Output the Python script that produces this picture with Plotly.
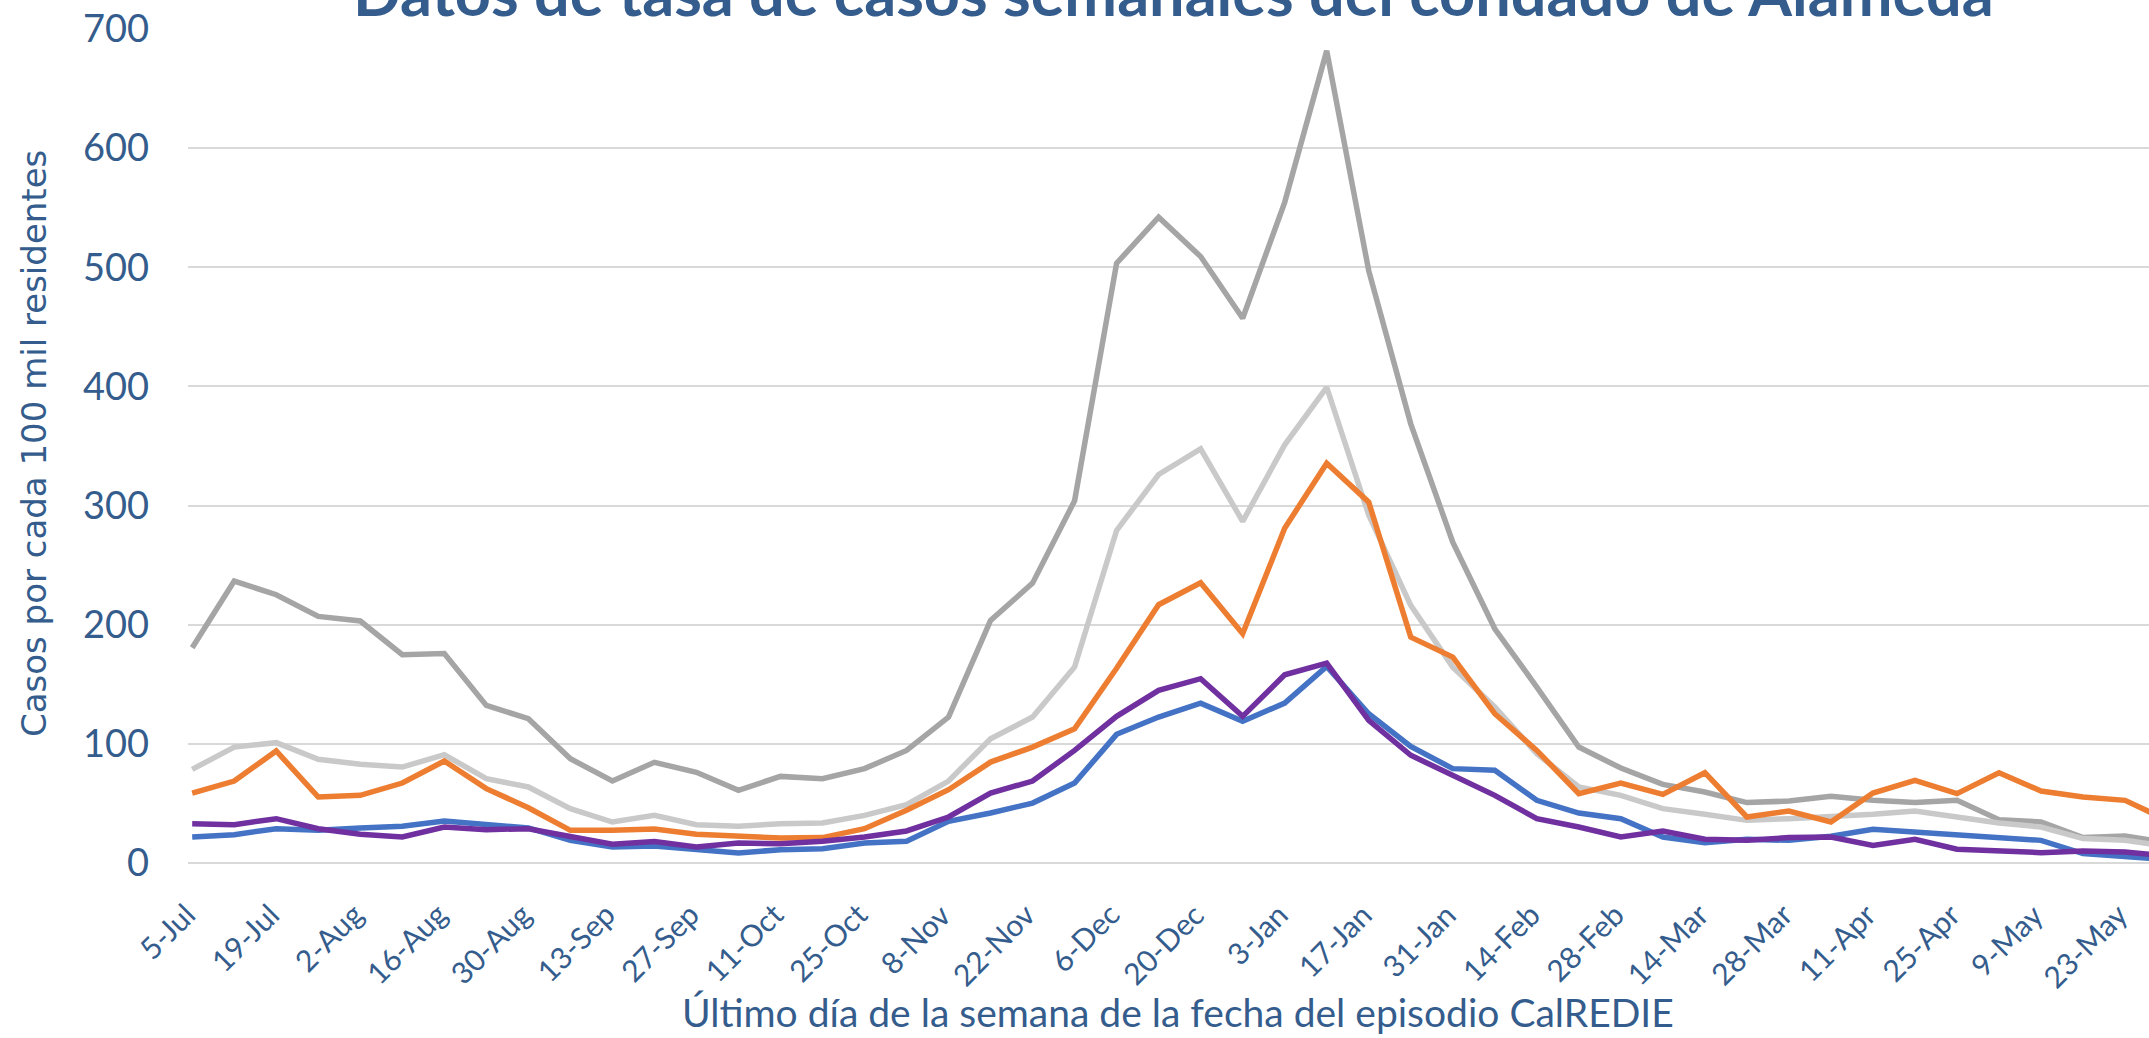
import plotly.graph_objects as go

weeks = ["5-Jul", "12-Jul", "19-Jul", "26-Jul", "2-Aug", "9-Aug", "16-Aug", "23-Aug", "30-Aug",
         "6-Sep", "13-Sep", "20-Sep", "27-Sep", "4-Oct", "11-Oct", "18-Oct", "25-Oct",
         "1-Nov", "8-Nov", "15-Nov", "22-Nov", "29-Nov", "6-Dec", "13-Dec", "20-Dec", "27-Dec",
         "3-Jan", "10-Jan", "17-Jan", "24-Jan", "31-Jan", "7-Feb", "14-Feb", "21-Feb", "28-Feb",
         "7-Mar", "14-Mar", "21-Mar", "28-Mar", "4-Apr", "11-Apr", "18-Apr", "25-Apr",
         "2-May", "9-May", "16-May", "23-May", "30-May"]

dark_gray = [180.7, 236.6, 225.2, 207.0, 203.1, 174.8, 175.9, 132.3, 121.1, 87.5, 68.8, 84.5,
             76.1, 61.0, 72.7, 70.8, 79.2, 94.5, 122.5, 203.6, 234.9, 304.0, 503.4, 542.0,
             509.0, 457.2, 554.5, 681.8, 497.2, 368.6, 269.3, 196.6, 147.7, 97.3, 79.7, 66.0,
             59.6, 50.7, 52.0, 56.0, 52.6, 50.7, 52.6, 36.4, 34.4, 21.3, 22.7, 17.0]
light_gray = [78.6, 97.3, 101.0, 87.0, 82.8, 80.5, 90.9, 70.8, 63.8, 45.6, 34.4, 40.0,
              32.2, 30.8, 33.0, 33.6, 40.0, 49.0, 68.8, 104.3, 122.5, 164.5, 279.1, 326.1,
              347.6, 286.7, 351.0, 399.3, 292.0, 216.2, 164.4, 130.9, 91.8, 63.8, 56.8, 45.6,
              40.9, 35.8, 37.2, 38.6, 40.9, 43.6, 38.6, 33.6, 30.2, 20.5, 19.0, 14.0]
orange = [58.7, 68.8, 94.0, 55.4, 56.8, 67.1, 85.6, 62.4, 46.4, 27.4, 27.4, 28.5,
          24.1, 22.9, 21.0, 21.3, 28.8, 44.2, 61.5, 84.7, 97.3, 112.7, 163.5, 216.8,
          235.2, 192.4, 281.0, 335.6, 302.9, 189.6, 172.8, 125.3, 94.5, 58.2, 67.1, 57.6,
          75.8, 38.6, 43.6, 34.4, 58.7, 69.4, 58.2, 75.8, 60.4, 55.4, 52.6, 36.0]
blue = [21.8, 23.8, 28.8, 27.4, 29.4, 30.8, 35.2, 32.2, 29.4, 19.0, 13.4, 14.3,
        11.2, 8.4, 11.2, 12.0, 16.8, 18.2, 35.0, 42.0, 50.3, 67.1, 108.0, 122.5,
        134.2, 118.9, 134.2, 165.0, 125.3, 97.9, 79.2, 77.8, 52.6, 41.9, 37.2, 21.8,
        17.1, 19.9, 19.0, 22.4, 28.3, 26.0, 24.6, 21.3, 19.0, 7.9, 5.6, 3.0]
purple = [33.0, 32.2, 37.2, 28.8, 24.1, 21.8, 30.2, 28.0, 28.8, 21.8, 15.7, 18.0,
          13.4, 16.8, 16.2, 18.2, 21.8, 26.9, 38.6, 58.7, 68.8, 94.5, 123.1, 144.9,
          154.7, 123.1, 158.0, 167.8, 119.7, 90.4, 73.6, 56.8, 37.2, 30.2, 21.8, 26.8,
          19.9, 19.0, 21.3, 21.8, 14.8, 19.9, 11.5, 10.1, 8.7, 10.1, 9.2, 6.0]

y_ticks = [0, 100, 200, 300, 400, 500, 600, 700]
x_tick_labels = weeks[::2]

title_text = "Datos de tasa de casos semanales del condado de Alameda"
x_title = "Último día de la semana de la fecha del episodio CalREDIE"
y_title = "Casos por cada 100 mil residentes"

text_color = "#345C8C"

fig = go.Figure()
series = [
    (dark_gray, "#A5A5A5"),
    (light_gray, "#C9C9C9"),
    (orange, "#ED7D31"),
    (blue, "#4472C4"),
    (purple, "#7030A0"),
]
for vals, col in series:
    fig.add_trace(go.Scatter(x=weeks, y=vals, mode="lines",
                             line=dict(color=col, width=5.5), showlegend=False))

fig.update_layout(
    width=2149, height=1038,
    margin=dict(l=188, r=0, t=29, b=175),
    plot_bgcolor="white", paper_bgcolor="white",
    showlegend=False,
)
fig.update_xaxes(
    type="category",
    range=[-0.1, 46.57],
    tickmode="array", tickvals=x_tick_labels,
    showticklabels=False,
    showgrid=False, showline=False, zeroline=False, ticks="",
)
fig.update_yaxes(
    range=[0, 700],
    tickmode="array", tickvals=y_ticks,
    tickfont=dict(family="Lato", size=38, color=text_color),
    showgrid=True, gridcolor="#D9D9D9", gridwidth=2,
    zeroline=True, zerolinecolor="#D9D9D9", zerolinewidth=2,
    showline=False, ticks="",
    ticklabelstandoff=38,
    ticklabeloverflow="allow",
)

for lab in x_tick_labels:
    fig.add_annotation(text=lab, xref="x", yref="paper", x=lab, y=-0.036,
                       xanchor="right", yanchor="top", textangle=-45, showarrow=False,
                       xshift=12,
                       font=dict(family="Lato", size=30, color=text_color))

fig.add_annotation(text="<b>" + title_text + "</b>", xref="paper", yref="paper",
                   x=0.5028, y=0.9976, xanchor="center", yanchor="bottom", showarrow=False,
                   font=dict(family="Lato", size=63, color=text_color))
fig.add_annotation(text=x_title, xref="paper", yref="paper",
                   x=0.5048, y=-0.1787, xanchor="center", yanchor="middle", showarrow=False,
                   font=dict(family="Lato", size=39, color=text_color))
fig.add_annotation(text=y_title, xref="paper", yref="paper", textangle=-90,
                   x=-0.0785, y=0.5024, xanchor="center", yanchor="middle", showarrow=False,
                   font=dict(family="DejaVu Sans", size=34, color=text_color))

fig.write_html("out.html", config={"displayModeBar": False},
               post_script="document.body.style.margin='0';")
